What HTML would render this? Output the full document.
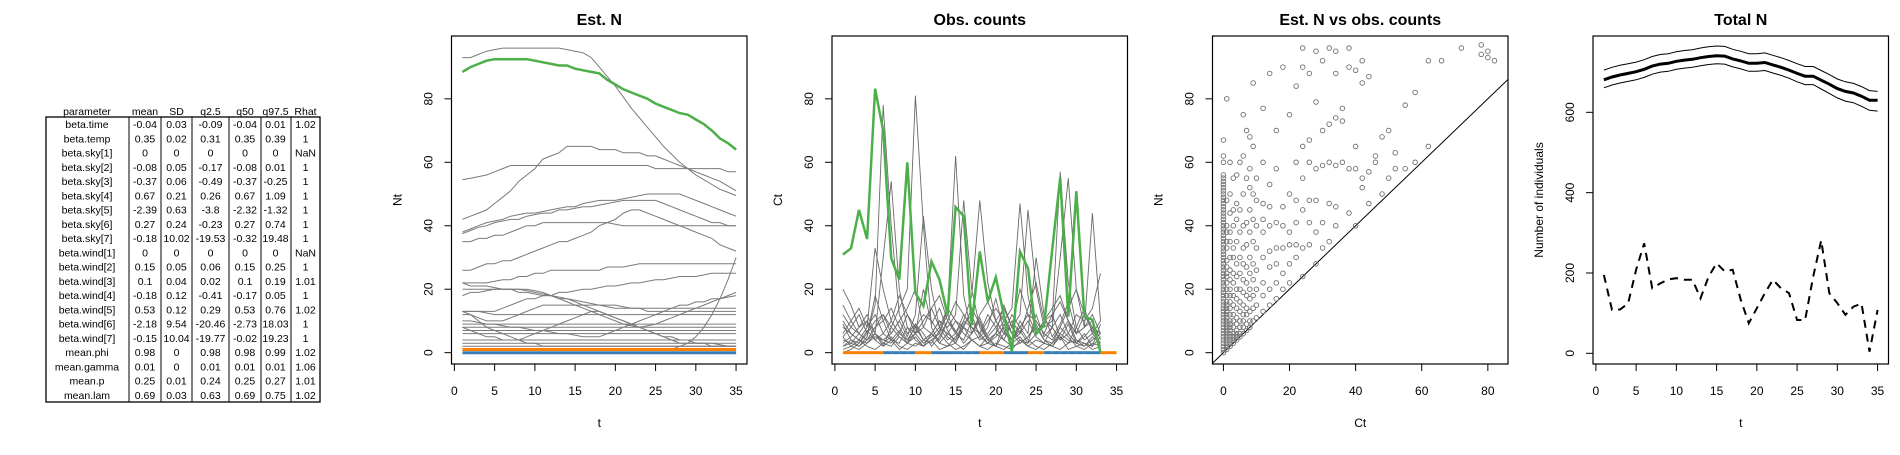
<!DOCTYPE html>
<html><head><meta charset="utf-8"><style>
body{margin:0;background:#fff;width:1900px;height:450px;overflow:hidden;font-family:"Liberation Sans",Arial,sans-serif;}
svg text{font-family:"Liberation Sans",Arial,sans-serif;}
</style></head><body>
<svg id="fig" width="1900" height="450" xmlns="http://www.w3.org/2000/svg"></svg>
<script>
// ---------- table data ----------
const tblHeader = ["parameter","mean","SD","q2.5","q50","q97.5","Rhat"];
const tblParams = ["beta.time","beta.temp","beta.sky[1]","beta.sky[2]","beta.sky[3]","beta.sky[4]","beta.sky[5]","beta.sky[6]","beta.sky[7]","beta.wind[1]","beta.wind[2]","beta.wind[3]","beta.wind[4]","beta.wind[5]","beta.wind[6]","beta.wind[7]","mean.phi","mean.gamma","mean.p","mean.lam"];
const tblMean = ["-0.04","0.35","0","-0.08","-0.37","0.67","-2.39","0.27","-0.18","0","0.15","0.1","-0.18","0.53","-2.18","-0.15","0.98","0.01","0.25","0.69"];
const tblSD = ["0.03","0.02","0","0.05","0.06","0.21","0.63","0.24","10.02","0","0.05","0.04","0.12","0.12","9.54","10.04","0","0","0.01","0.03"];
const tblQ025 = ["-0.09","0.31","0","-0.17","-0.49","0.26","-3.8","-0.23","-19.53","0","0.06","0.02","-0.41","0.29","-20.46","-19.77","0.98","0.01","0.24","0.63"];
const tblQ50 = ["-0.04","0.35","0","-0.08","-0.37","0.67","-2.32","0.27","-0.32","0","0.15","0.1","-0.17","0.53","-2.73","-0.02","0.98","0.01","0.25","0.69"];
const tblQ975 = ["0.01","0.39","0","0.01","-0.25","1.09","-1.32","0.74","19.48","0","0.25","0.19","0.05","0.76","18.03","19.23","0.99","0.01","0.27","0.75"];
const tblRhat = ["1.02","1","NaN","1","1","1","1","1","1","NaN","1","1.01","1","1.02","1","1","1.02","1.06","1.01","1.02"];

// ---------- panel 1: Est. N ----------
const tSteps = [1,2,3,4,5,6,7,8,9,10,11,12,13,14,15,16,17,18,19,20,21,22,23,24,25,26,27,28,29,30,31,32,33,34,35];
const estGreen = [88.5,90,91,92,92.5,92.5,92.5,92.5,92.5,92,91.5,91,90.5,90.5,89.5,89,88.5,88,86,84.5,83,82,81,80,78.5,77.5,76.5,75.5,75,73.5,72,70,67.5,66,64];
const estOrange = [1,1,1,1,1,1,1,1,1,1,1,1,1,1,1,1,1,1,1,1,1,1,1,1,1,1,1,1,1,1,1,1,1,1,1];
const estBlue = [0,0,0,0,0,0,0,0,0,0,0,0,0,0,0,0,0,0,0,0,0,0,0,0,0,0,0,0,0,0,0,0,0,0,0];
const estGrey = [
[93,93,94,95,95.5,96,96,96,96,96,96,96,96,95.5,95,94.5,93,90,87,84,80.5,77,74,71,68,65,62.5,60,58,56,54.5,53,51.5,50.5,49.5],
[54.5,55,55.5,56,57,58,59,59,59,59,59,59,59,59,59,59,59,59,59,59,59,59,59,59,58,58,58,58,58,58,58,58,58,57,57],
[42,43,44,45,47,49,51,54,56,58,61,62,63,65,65,65,65,64,64,64,63,63,63,62,62,61,60,59,58,57,56,55,54,52.5,51],
[38,39,40,41,41.5,42,43,43.5,44,44,44.5,45,45.5,46,46,47,47.5,48,48,48,48.5,49,49.5,50,50,50,50,50,49,48,47,46,45,44,43],
[37.5,38.5,39.5,40,41,41.5,42,42,43,43.5,44,44,45,45,45.5,46,46,46.5,47,47.5,48,48,48,48,48,47,46,45,44,43,42,41,41,40,40],
[35,35,36,36,37,37,38,39,40,40,41,41,41,41,41,41,41,41,41,40.5,40,40,40,40,40,40,40,40,40,40,40,40,40,40,40],
[26,26,27,28,28,29,29,30,31,32,33,34,35,35,36,37,38,40,41,42,44,45,45,44,43,42,41,40,39,38,37,36,34,33,32],
[22,22,22,22,22.5,23,23,24,24,25,25,26,26,26,26,26,26,26,27,27,27,27.5,28,28,28,28,28,28,28,28,28,28,28,28,28],
[22,21,21,21,20.5,20,20,19,19,18.5,18,18,17.5,17,16.5,16,15.5,15,15,15,14.5,14,14,14,14,14,14,14,14,14,14,14,14,14,14],
[20,20,20,20,20,20,20,20,20,19.5,19,18,17,16,15,14,13,12,11,10,9,8.5,8,8.5,9,10,11,12,13,14,15,16,17,18,19],
[18,19,19,19.5,20,20,20,20,19.5,19,18.5,18,17,17,16,15,14,13,12,11,10,9,8,7,6,5,5,4,4,3,3,3,2.5,2,2],
[13,13,13,13,13,14,15,16,17,17,18,18,19,19,19.5,20,20,20.5,21,21,21.5,22,22,22.5,23,23,23.5,24,24,24,24.5,25,25,25,25],
[13,13,13,12.5,12,12,12,12,12,12,12,12,12,12,12,12,12,12,12,12,12,12,12,12,12,12,12,12,12,12,12,12,12,12,12],
[12,12,11,10,10,10,11,12,13,14,15,15,15,15,15,15,15,15,14.5,14,14,14,14,13,13,13,13,13,13,13,13,13,13,13,13],
[9,9,9,9,9,9,9,9,9,9,9,9,9,9,9,9,9,9,9,9,9,9,9,9,9,9,9,9,9,9,9,9,9,9,9],
[8,8,8,8,8,8,8,8,8,8,8,8,8,8,8,8,8,8,8,8,8,8,8,8,8,8,8,8,8,8,8,8,8,8,8],
[7,7,7,7,7,7,7,7,7,7,7,7,7,7,7,7,7,7,7,7,7,7,7,7,7,7,7,7,7,7,7,7,7,7,7],
[6,6,6,6,6,6,6,6,6,6,6,6,6,6,6,6,6,6,6,6,6,6,6,6,6,6,6,6,6,6,6,6,6,6,6],
[4,4,4,4,4,4,4,4,4,4,4,4,4,4,4,4,4,4,4,4,4,4,4,4,4,4,4,4,4,4,4,4,4,4,4],
[3,3,3,3,3,3,3,3,3,3,3,3,3,3,3,3,3,3,3,3,3,3,3,3,3,3,3,3,3,3,3,3,3,3,3],
[2,2,2,2,2,2,2,2,2,2,2,2,2,2,2,2,2,2,2,2,2,2,2,2,2,2,2,2,2,2,2,2,2,2,2],
[13,12,10,8,7,6,5,4,3,3,2,2,2,2,2,2,2,2,2,2,2,2,2,2,2,2,2,2,2,2,2,2,2,2,2],
[1,1,1,1,1,1,1,1,1,1,1,1,1,1,1,1,1,1,1,1,1,1,1,1,1,1,1,2,3,5,8,12,17,23,30],
[8,7,6,5,5,4,4,4,5,6,7,8,9,10,11,12,13,13,12,11,10,9,8,7,6,5,4,3,3,3,3,2,2,2,2],
[10,10,9.5,9,9,8.5,8,8,7.5,7,7,6.5,6,6,5.5,5,5,5,6,7,8,9,10,11,12,13,14,15,15,16,16,17,17,17.5,18]
];

// ---------- panel 2: Obs. counts ----------
const obsGreen = [30.9,32.9,45,35.8,83.2,70,29.8,23,60,18.8,14.7,28.7,23,11.9,45.9,43,8.7,31.9,16.1,23.8,11.9,0.3,31.9,26.6,5.9,8.7,32.4,55.1,11.4,50.9,11.4,10.4,0];
const obsZeroColors = ["o","o","o","o","o","b","b","b","b","o","o","b","b","b","b","b","b","o","o","o","b","b","b","o","o","b","b","b","b","b","b","b","o","o"];
const obsGrey = [
[20,15,8,12,6,30,54,20,8,4,2,6,10,5,3,8,14,9,4,2,6,12,8,4,2,1,3,8,5,2,1,3,2],
[5,8,12,6,15,78,40,12,6,9,4,3,7,12,6,4,10,6,3,5,8,4,6,10,5,3,8,12,6,3,2,4,6],
[2,4,3,6,10,12,8,14,20,81,40,8,3,6,10,6,4,2,5,8,12,6,3,5,9,4,2,6,10,4,3,2,5],
[8,6,4,3,5,4,6,10,5,12,43,20,8,14,62,18,6,10,4,6,15,8,4,3,6,10,12,5,3,8,14,6,3],
[3,5,8,10,6,4,3,6,12,8,4,6,10,8,12,48,20,8,4,6,10,14,47,18,6,10,8,4,6,12,10,14,25],
[10,6,4,8,12,6,4,3,8,6,10,14,8,6,4,10,18,48,22,10,6,8,12,45,20,8,10,57,22,8,4,6,10],
[4,3,6,4,8,10,14,8,4,6,3,5,8,4,6,10,8,6,12,8,4,10,6,14,22,10,8,30,55,20,8,44,10],
[6,10,14,8,33,20,10,6,4,8,12,10,6,14,10,8,6,12,16,10,6,4,8,12,6,10,14,18,10,6,8,12,6],
[12,8,6,10,4,6,10,18,12,6,8,14,18,10,6,12,8,4,6,10,14,8,20,12,10,6,4,8,14,20,12,8,6],
[2,3,2,4,6,3,2,5,3,2,4,6,3,2,5,8,4,2,3,6,4,2,3,5,8,4,3,6,4,3,5,8,2],
[1,2,4,2,1,3,5,2,1,3,2,4,1,2,3,1,4,2,1,3,2,1,4,2,1,3,2,5,1,2,3,1,2],
[5,2,1,3,6,2,4,1,3,5,2,4,6,3,1,2,4,5,3,2,1,3,5,2,4,3,2,1,3,4,2,5,3],
[15,10,6,4,8,12,6,10,14,20,8,6,4,10,16,12,8,6,10,14,10,6,8,12,10,6,12,16,10,6,8,10,4],
[0,1,3,7,4,2,8,5,3,9,6,2,5,10,7,3,6,11,5,2,9,4,7,3,12,5,8,4,9,3,6,2,9],
[9,4,2,5,18,10,4,7,3,6,20,9,14,7,3,9,12,5,8,17,7,3,10,6,30,12,5,9,16,6,12,7,3]
];

// ---------- panel 3: Est. N vs obs. counts ----------
const scCt = [0,1,2,3,4,5,6,7,8,9,10,12,14,16,18,20,22,24,26,28,30,32,34,36,38,40,42,44,46,48,50,52,55,58,62,66,72,78,80,82];
const scNt = [
[0,1,2,3,4,5,6,7,8,9,10,11,12,13,14,15,16,17,18,19,20,21,22,23,24,25,26,27,28,29,30,31,32,33,34,35,36,37,38,39,40,41,42,43,44,45,46,47,48,49,50,51,52,53,54,55,56,60,62,67],
[1,2,3,4,5,6,7,8,9,10,11,12,13,14,15,16,18,20,22,24,25,27,29,33,35,38,40,48,80],
[2,3,4,5,6,7,8,9,10,12,14,16,18,20,23,26,30,35,38,44,50,60],
[3,4,5,6,8,10,12,15,18,22,25,30,33,40,45,55],
[4,5,6,7,9,11,14,17,20,24,28,35,42,47,56],
[5,6,8,10,13,16,20,25,30,38,45,60],
[6,8,10,12,15,19,23,28,33,40,50,62,75],
[7,9,12,14,18,22,27,34,41,55,70],
[8,10,13,17,20,25,30,38,45,52,58,68],
[10,14,18,23,28,35,42,50,65,85],
[11,15,20,26,33,40,48,55],
[13,18,22,30,38,42,47,60,77],
[15,20,27,32,40,46,53,88],
[17,22,28,33,41,58,70],
[20,25,33,40,46,90],
[22,28,34,38,50,75],
[30,34,41,48,60,84],
[24,33,45,55,65,90,96],
[34,41,48,60,67,88],
[28,38,48,58,79,95],
[33,41,59,70,92],
[35,47,60,72,96],
[40,46,59,74,88,95],
[60,73,77],
[44,58,90,96],
[40,58,65,89],
[52,55,85,92],
[47,57,87],
[60,62],
[50,68],
[55,70],
[58,63],
[58,78],
[60,82],
[65,92],
[92],
[96],
[94,97],
[95,93],
[92]
];

// ---------- panel 4: Total N ----------
const totMean = [681,688,693,697,701,707,715,720,722,727,730,732,736,739,741,740,733,728,722,722,724,718,712,705,697,690,690,680,670,659,652,648,640,630,630];
const totUpper = [705,712,717,721,725,731,739,744,746,751,754,756,760,763,765,764,757,752,746,746,748,742,736,729,721,714,714,704,694,683,676,672,664,654,652];
const totLower = [661,668,673,677,681,687,695,700,702,707,710,712,716,719,721,720,713,708,702,702,704,698,692,685,676,669,669,658,647,636,628,624,615,605,603];
const totObs = [195,108,109,124,208,274,162,174,184,187,183,183,137,191,224,204,208,133,75,112,150,183,162,150,83,83,191,281,150,125,96,116,124,4,108];

const xTicksT = [0,5,10,15,20,25,30,35];
const yTicksN = [0,20,40,60,80];
const xTicksCt = [0,20,40,60,80];
const yTicksTot = [0,200,400,600];

// ---------- drawing ----------
const NS = "http://www.w3.org/2000/svg";
const svg = document.getElementById('fig');
function mk(tag, attrs, parent){
  const e = document.createElementNS(NS, tag);
  for (const k in attrs) e.setAttribute(k, attrs[k]);
  (parent || svg).appendChild(e);
  return e;
}
function txt(s, attrs, parent){ const e = mk('text', attrs, parent); e.textContent = s; return e; }

// table
const tg = mk('g', {});


const colX = [87,145,176.5,210.5,245,275.5,305.5];
const colB = [46,129,161,192,229,261,291,320];
const rowTop = 117, rowH = 14.25;
tblHeader.forEach((h,i)=>{
  const t = txt(h, {x:colX[i], y:115, 'font-size':10.5, 'text-anchor':'middle'}, tg);
  
  
});
mk('rect', {x:46, y:rowTop, width:274, height:rowH*tblParams.length, fill:'none', stroke:'#000', 'stroke-width':1.3}, tg);
for (let i=1;i<7;i++) mk('line', {x1:colB[i], x2:colB[i], y1:rowTop, y2:rowTop+rowH*tblParams.length, stroke:'#000', 'stroke-width':1}, tg);
const cols = [tblParams, tblMean, tblSD, tblQ025, tblQ50, tblQ975, tblRhat];
tblParams.forEach((p,r)=>{
  cols.forEach((c,ci)=>{
    const t = txt(c[r], {x:colX[ci], y:rowTop + r*rowH + 11, 'font-size':10.5, 'text-anchor':'middle'}, tg);
    
    
  });
});

const TOP = 36, BOT = 364, W = 295.5;
function panel(left, xlim, ylim, name){
  const g = mk('g', {});
  
  
  const sx = v => left + (v - xlim[0]) / (xlim[1] - xlim[0]) * W;
  const sy = v => BOT - (v - ylim[0]) / (ylim[1] - ylim[0]) * (BOT - TOP);
  const cid = 'clip-' + name;
  const cp = mk('clipPath', {id:cid}, g);
  mk('rect', {x:left, y:TOP, width:W, height:BOT-TOP}, cp);
  const plot = mk('g', {'clip-path':'url(#'+cid+')'}, g);
  return {g, sx, sy, left, plot};
}
function axes(P, xt, yt, title, xl, yl){
  const {g, sx, sy, left} = P;
  const fr = mk('rect', {x:left, y:TOP, width:W, height:BOT-TOP, fill:'none', stroke:'#000', 'stroke-width':1.2}, g);
  
  
  mk('line', {x1:sx(xt[0]), x2:sx(xt[xt.length-1]), y1:BOT, y2:BOT, stroke:'#000'}, g);
  xt.forEach(v=>{
    mk('line', {x1:sx(v), x2:sx(v), y1:BOT, y2:BOT+7, stroke:'#000'}, g);
    const t = txt(String(v), {x:sx(v), y:395, 'font-size':12, 'text-anchor':'middle'}, g);
    
    
  });
  mk('line', {x1:left, x2:left, y1:sy(yt[0]), y2:sy(yt[yt.length-1]), stroke:'#000'}, g);
  yt.forEach(v=>{
    mk('line', {x1:left-7, x2:left, y1:sy(v), y2:sy(v), stroke:'#000'}, g);
    const t = txt(String(v), {x:0, y:0, 'font-size':12, 'text-anchor':'middle', transform:'translate('+(left-19)+','+sy(v)+') rotate(-90)'}, g);
    
    
  });
  const tt = txt(title, {x:left+W/2, y:25, 'font-size':16, 'font-weight':'bold', 'text-anchor':'middle'}, g);
  
  
  const xa = txt(xl, {x:left+W/2, y:427, 'font-size':12, 'text-anchor':'middle'}, g);
  
  
  const ya = txt(yl, {x:0, y:0, 'font-size':12, 'text-anchor':'middle', transform:'translate('+(left-50)+','+((TOP+BOT)/2)+') rotate(-90)'}, g);
  
  
}
function poly(P, xs, ys, attrs, name){
  const pts = ys.map((v,i)=>P.sx(xs[i]).toFixed(1)+','+P.sy(v).toFixed(1)).join(' ');
  const e = mk('polyline', Object.assign({points:pts, fill:'none'}, attrs), P.plot);
  
  
  return e;
}

// Panel 1
const P1 = panel(451.5, [-0.36,36.36], [-3.57,99.8], 'est-n-panel');
estGrey.forEach(s=>poly(P1, tSteps, s, {stroke:'#7a7a7a','stroke-width':1}, 'est-n-site-line'));
poly(P1, tSteps, estOrange, {stroke:'#ff7f00','stroke-width':3}, 'est-n-orange-line');
poly(P1, tSteps, estBlue, {stroke:'#377eb8','stroke-width':3}, 'est-n-blue-line');
poly(P1, tSteps, estGreen, {stroke:'#4daf4a','stroke-width':2.5}, 'est-n-green-line');
axes(P1, xTicksT, yTicksN, 'Est. N', 't', 'Nt');

// Panel 2
const P2 = panel(832, [-0.36,36.36], [-3.57,99.8], 'obs-counts-panel');
obsGrey.forEach(s=>poly(P2, tSteps, s, {stroke:'#6a6a6a','stroke-width':0.9}, 'obs-count-site-line'));
obsZeroColors.forEach((c,i)=>{
  const e = mk('line', {x1:P2.sx(tSteps[i]), x2:P2.sx(tSteps[i]+1), y1:P2.sy(0), y2:P2.sy(0), stroke:c==='o'?'#ff7f00':'#377eb8','stroke-width':3}, P2.plot);
  
  
});
poly(P2, tSteps, obsGreen, {stroke:'#4daf4a','stroke-width':2.5}, 'obs-count-green-line');
axes(P2, xTicksT, yTicksN, 'Obs. counts', 't', 'Ct');

// Panel 3
const P3 = panel(1212.5, [-3.3,86.1], [-3.57,99.8], 'scatter-panel');
const dl = mk('line', {x1:P3.sx(-5), y1:P3.sy(-5), x2:P3.sx(100), y2:P3.sy(100), stroke:'#000','stroke-width':1}, P3.plot);


scCt.forEach((c,i)=>{
  scNt[i].forEach(n=>{
    const e = mk('circle', {cx:P3.sx(c), cy:P3.sy(n), r:2.3, fill:'none', stroke:'#707070','stroke-width':0.9}, P3.plot);
    
    
  });
});
axes(P3, xTicksCt, yTicksN, 'Est. N vs obs. counts', 'Ct', 'Nt');

// Panel 4
const P4 = panel(1593, [-0.36,36.36], [-26.6,790], 'total-n-panel');
poly(P4, tSteps, totUpper, {stroke:'#000','stroke-width':1}, 'total-upper-ci');
poly(P4, tSteps, totLower, {stroke:'#000','stroke-width':1}, 'total-lower-ci');
poly(P4, tSteps, totMean, {stroke:'#000','stroke-width':3}, 'total-mean-line');
poly(P4, tSteps, totObs, {stroke:'#000','stroke-width':2,'stroke-dasharray':'8,6'}, 'total-observed-line');
axes(P4, xTicksT, yTicksTot, 'Total N', 't', 'Number of individuals');
</script>
</body></html>
